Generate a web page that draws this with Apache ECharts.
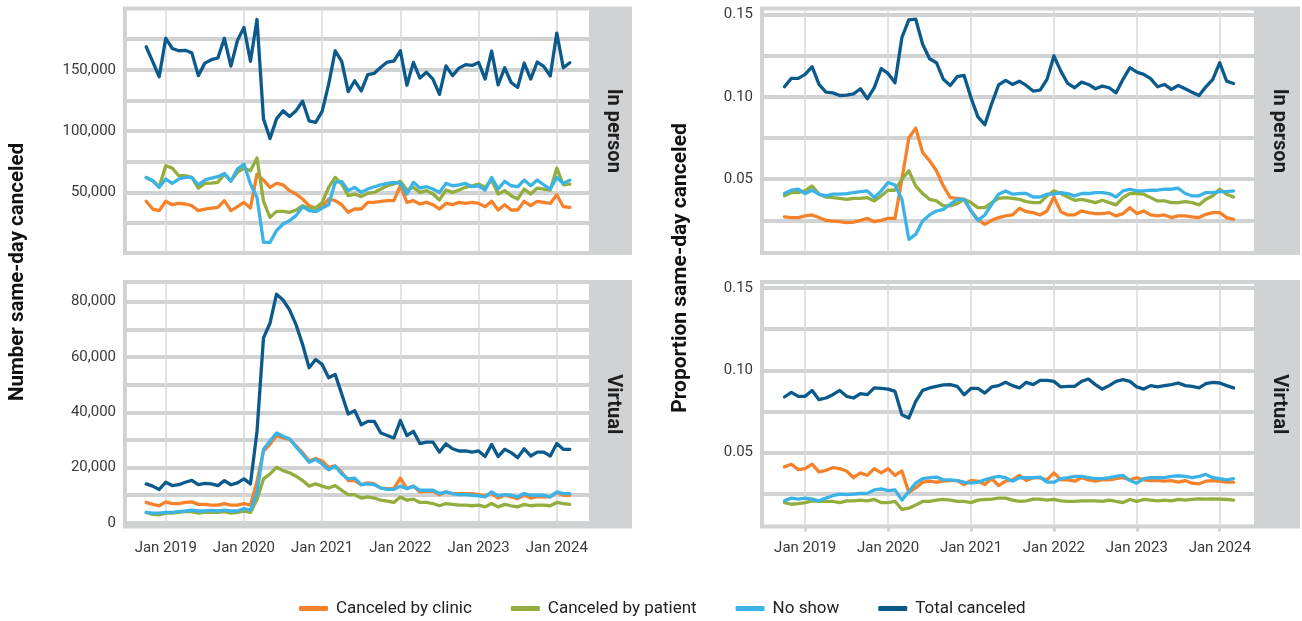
<!DOCTYPE html>
<html>
<head>
<meta charset="utf-8">
<title>Same-day canceled appointments</title>
<script src="https://cdn.jsdelivr.net/npm/echarts@6/dist/echarts.min.js"></script>
<style>
  html, body { margin: 0; padding: 0; background: #fff; }
  #chart { width: 1302px; height: 621px; }
</style>
</head>
<body>
<div id="chart"></div>
<script>
// monthly observations, Oct 2018 - Mar 2024
const months = [
  '2018-10', '2018-11', '2018-12',
  '2019-01', '2019-02', '2019-03', '2019-04', '2019-05', '2019-06', '2019-07', '2019-08', '2019-09', '2019-10', '2019-11', '2019-12',
  '2020-01', '2020-02', '2020-03', '2020-04', '2020-05', '2020-06', '2020-07', '2020-08', '2020-09', '2020-10', '2020-11', '2020-12',
  '2021-01', '2021-02', '2021-03', '2021-04', '2021-05', '2021-06', '2021-07', '2021-08', '2021-09', '2021-10', '2021-11', '2021-12',
  '2022-01', '2022-02', '2022-03', '2022-04', '2022-05', '2022-06', '2022-07', '2022-08', '2022-09', '2022-10', '2022-11', '2022-12',
  '2023-01', '2023-02', '2023-03', '2023-04', '2023-05', '2023-06', '2023-07', '2023-08', '2023-09', '2023-10', '2023-11', '2023-12',
  '2024-01', '2024-02', '2024-03'
];

const yearTicks = [2019, 2020, 2021, 2022, 2023, 2024];
const seriesNames = ['Canceled by clinic', 'Canceled by patient', 'No show', 'Total canceled'];
const stripLabels = ['In person', 'Virtual'];

// number same-day canceled, in person
const inPersonClinic = [
  42700, 36400, 35100, 42700, 39900, 41000, 40500, 39100, 35100, 36400,
  37200, 37800, 43200, 35100, 38300, 41800, 37200, 64900, 60000, 54100,
  57300, 56200, 51400, 48600, 44600, 39100, 37200, 38300, 44600, 43200,
  39900, 33700, 36400, 36400, 41800, 41800, 42700, 43200, 43200, 55400,
  41800, 43200, 40500, 41800, 39900, 36400, 41000, 39900, 41800, 41000,
  41800, 41000, 38300, 42700, 35600, 39900, 35600, 35600, 42700, 39100,
  42700, 41800, 41000, 48100, 38300, 37800
];
const inPersonPatient = [
  62200, 59500, 54600, 71700, 69800, 63600, 63600, 62200, 53500, 57300,
  57600, 58200, 64900, 59500, 66300, 69800, 67700, 78000, 42700, 29600,
  34500, 34500, 33700, 35600, 39100, 37200, 37200, 41800, 54100, 62200,
  56800, 47300, 48600, 46500, 49200, 50000, 52700, 55400, 56800, 59000,
  51900, 54100, 50000, 51400, 48600, 43800, 51900, 50000, 51900, 54100,
  55400, 56800, 54100, 60000, 48600, 51400, 47300, 44600, 52700, 48600,
  53500, 52700, 51900, 69800, 56200, 56800
];
const inPersonNoShow = [
  62200, 59500, 54100, 60900, 57300, 60900, 62200, 62200, 56200, 60000,
  61700, 62800, 65500, 59000, 69000, 73100, 56800, 45900, 9200, 9200,
  18800, 24200, 26900, 31000, 38300, 35100, 34200, 37200, 39900, 58200,
  59000, 51400, 54100, 50000, 52700, 54600, 56200, 57300, 58200, 57300,
  48600, 58200, 53500, 54600, 52700, 50000, 57300, 55400, 56200, 57300,
  54600, 55400, 51900, 62200, 52700, 59000, 55400, 54600, 60000, 55400,
  60000, 56200, 52700, 62200, 57300, 60000
];
const inPersonTotal = [
  168900, 156700, 144400, 175800, 167500, 165600, 166000, 163900, 145300, 155500,
  158300, 159700, 175800, 153000, 173900, 184700, 157000, 191100, 110000, 93900,
  110000, 116700, 111900, 116700, 124400, 108300, 107200, 116100, 138300, 165600,
  157000, 132200, 141100, 132800, 146100, 147200, 152200, 156400, 157200, 165600,
  137500, 156100, 143300, 148000, 142500, 130000, 153300, 145300, 151400, 154200,
  153600, 156100, 142500, 165300, 137800, 151700, 139700, 135600, 155500, 142500,
  156400, 152800, 145000, 180000, 151700, 155800
];

// number same-day canceled, virtual
const virtualClinic = [
  7400, 6700, 6200, 7600, 7000, 7000, 7400, 7600, 6700, 6700,
  6400, 6400, 7000, 6400, 6400, 7000, 6400, 15000, 26000, 28400,
  31600, 30700, 30200, 27800, 25400, 22400, 23300, 22400, 20100, 20600,
  18300, 15300, 15300, 13800, 14500, 14100, 12600, 12400, 12400, 16200,
  12400, 13300, 11200, 11400, 11400, 10200, 11200, 10600, 10600, 10600,
  10600, 10200, 9800, 10600, 9000, 10000, 9400, 8800, 10000, 9000,
  9400, 9400, 9400, 10900, 10000, 10000
];
const virtualPatient = [
  3800, 3100, 2900, 3500, 3500, 3800, 4100, 4100, 3500, 3800,
  3800, 3800, 4100, 3500, 3800, 4300, 3800, 8500, 15900, 17700,
  20100, 18900, 18100, 16900, 15300, 13300, 14100, 13300, 12600, 13500,
  11800, 10200, 10200, 9000, 9400, 9000, 8200, 7900, 7400, 9400,
  8200, 8600, 7400, 7400, 7000, 6200, 7000, 6700, 6400, 6400,
  6200, 6400, 5800, 7000, 5800, 6700, 6200, 5800, 6700, 6200,
  6400, 6400, 6200, 7400, 7000, 6700
];
const virtualNoShow = [
  3800, 3500, 3500, 3800, 3800, 4100, 4300, 4600, 4300, 4300,
  4500, 4300, 4600, 4300, 4300, 5200, 4600, 11000, 26600, 29600,
  32500, 31300, 30400, 27500, 24800, 21900, 23000, 21300, 19200, 20600,
  17700, 15900, 16200, 13800, 14100, 13800, 12600, 12100, 12100, 13300,
  12400, 13300, 11800, 11800, 11800, 10600, 11200, 10600, 10200, 10200,
  10000, 9800, 9400, 11200, 9800, 10200, 10000, 9400, 10600, 10000,
  10000, 10000, 9400, 11200, 10600, 10600
];
const virtualTotal = [
  14100, 13300, 12100, 14700, 13500, 13800, 14700, 15400, 13800, 14300,
  14100, 13500, 15300, 13800, 14500, 15900, 14100, 33000, 66900, 72200,
  82700, 80600, 77000, 71600, 64500, 56100, 59100, 57300, 52500, 53700,
  46600, 39400, 40600, 35500, 36700, 36700, 32500, 31600, 30700, 37000,
  31600, 33100, 28700, 29200, 29200, 25600, 28600, 26800, 26000, 26000,
  25600, 26000, 24000, 28400, 24000, 26600, 25400, 23600, 26800, 24200,
  25600, 25600, 24200, 28700, 26600, 26600
];

// proportion same-day canceled, in person
const inPersonPropClinic = [
  0.0271, 0.0267, 0.0267, 0.0277, 0.0283, 0.0267, 0.0250, 0.0246, 0.0242, 0.0236,
  0.0240, 0.0250, 0.0262, 0.0242, 0.0250, 0.0262, 0.0262, 0.0500, 0.0750, 0.0810,
  0.0662, 0.0612, 0.0551, 0.0459, 0.0388, 0.0384, 0.0378, 0.0307, 0.0256, 0.0226,
  0.0250, 0.0267, 0.0277, 0.0283, 0.0323, 0.0303, 0.0297, 0.0283, 0.0307, 0.0392,
  0.0303, 0.0283, 0.0283, 0.0307, 0.0297, 0.0291, 0.0291, 0.0297, 0.0277, 0.0291,
  0.0327, 0.0291, 0.0307, 0.0283, 0.0277, 0.0283, 0.0267, 0.0277, 0.0277, 0.0271,
  0.0267, 0.0287, 0.0297, 0.0297, 0.0267, 0.0256
];
const inPersonPropPatient = [
  0.0399, 0.0419, 0.0419, 0.0429, 0.0459, 0.0409, 0.0392, 0.0388, 0.0384, 0.0378,
  0.0384, 0.0384, 0.0388, 0.0368, 0.0399, 0.0433, 0.0433, 0.0500, 0.0551, 0.0459,
  0.0413, 0.0378, 0.0368, 0.0338, 0.0338, 0.0352, 0.0378, 0.0358, 0.0327, 0.0327,
  0.0358, 0.0384, 0.0388, 0.0384, 0.0378, 0.0364, 0.0358, 0.0358, 0.0399, 0.0429,
  0.0413, 0.0392, 0.0372, 0.0378, 0.0368, 0.0358, 0.0372, 0.0358, 0.0344, 0.0388,
  0.0413, 0.0413, 0.0409, 0.0388, 0.0368, 0.0368, 0.0358, 0.0358, 0.0364, 0.0358,
  0.0344, 0.0378, 0.0399, 0.0439, 0.0409, 0.0392
];
const inPersonPropNoShow = [
  0.0413, 0.0433, 0.0439, 0.0413, 0.0433, 0.0409, 0.0399, 0.0409, 0.0409, 0.0413,
  0.0419, 0.0425, 0.0429, 0.0388, 0.0429, 0.0480, 0.0465, 0.0378, 0.0135, 0.0165,
  0.0246, 0.0283, 0.0307, 0.0317, 0.0348, 0.0378, 0.0378, 0.0307, 0.0250, 0.0283,
  0.0348, 0.0409, 0.0429, 0.0409, 0.0413, 0.0413, 0.0392, 0.0392, 0.0409, 0.0409,
  0.0419, 0.0413, 0.0399, 0.0413, 0.0413, 0.0419, 0.0419, 0.0413, 0.0392, 0.0429,
  0.0439, 0.0429, 0.0429, 0.0433, 0.0433, 0.0439, 0.0439, 0.0445, 0.0413, 0.0399,
  0.0399, 0.0419, 0.0419, 0.0425, 0.0425, 0.0429
];
const inPersonPropTotal = [
  0.1061, 0.1112, 0.1112, 0.1136, 0.1183, 0.1075, 0.1028, 0.1024, 0.1008, 0.1010,
  0.1018, 0.1049, 0.0988, 0.1055, 0.1171, 0.1142, 0.1085, 0.1360, 0.1467, 0.1471,
  0.1319, 0.1231, 0.1207, 0.1106, 0.1069, 0.1122, 0.1130, 0.0994, 0.0878, 0.0831,
  0.0959, 0.1073, 0.1100, 0.1075, 0.1095, 0.1069, 0.1035, 0.1041, 0.1106, 0.1248,
  0.1156, 0.1081, 0.1055, 0.1089, 0.1075, 0.1049, 0.1065, 0.1055, 0.1024, 0.1106,
  0.1177, 0.1150, 0.1136, 0.1110, 0.1061, 0.1075, 0.1045, 0.1069, 0.1049, 0.1028,
  0.1008, 0.1061, 0.1106, 0.1207, 0.1095, 0.1081
];

// proportion same-day canceled, virtual
const virtualPropClinic = [
  0.0414, 0.0430, 0.0397, 0.0403, 0.0430, 0.0383, 0.0393, 0.0409, 0.0403, 0.0389,
  0.0348, 0.0377, 0.0362, 0.0403, 0.0377, 0.0403, 0.0362, 0.0389, 0.0259, 0.0286,
  0.0321, 0.0327, 0.0321, 0.0327, 0.0331, 0.0331, 0.0307, 0.0331, 0.0327, 0.0307,
  0.0342, 0.0300, 0.0327, 0.0335, 0.0362, 0.0331, 0.0348, 0.0348, 0.0335, 0.0377,
  0.0335, 0.0335, 0.0327, 0.0348, 0.0335, 0.0327, 0.0335, 0.0335, 0.0342, 0.0348,
  0.0335, 0.0348, 0.0335, 0.0331, 0.0331, 0.0327, 0.0331, 0.0321, 0.0331, 0.0315,
  0.0311, 0.0327, 0.0331, 0.0327, 0.0321, 0.0321
];
const virtualPropPatient = [
  0.0197, 0.0187, 0.0191, 0.0197, 0.0208, 0.0204, 0.0204, 0.0204, 0.0197, 0.0208,
  0.0208, 0.0212, 0.0208, 0.0216, 0.0197, 0.0197, 0.0204, 0.0156, 0.0163, 0.0183,
  0.0204, 0.0204, 0.0212, 0.0216, 0.0212, 0.0204, 0.0204, 0.0197, 0.0212, 0.0216,
  0.0218, 0.0224, 0.0224, 0.0212, 0.0204, 0.0208, 0.0218, 0.0218, 0.0212, 0.0216,
  0.0208, 0.0204, 0.0204, 0.0208, 0.0208, 0.0208, 0.0204, 0.0212, 0.0204, 0.0197,
  0.0216, 0.0204, 0.0216, 0.0212, 0.0208, 0.0212, 0.0208, 0.0216, 0.0212, 0.0216,
  0.0220, 0.0218, 0.0220, 0.0218, 0.0216, 0.0212
];
const virtualPropNoShow = [
  0.0208, 0.0224, 0.0218, 0.0224, 0.0218, 0.0208, 0.0224, 0.0239, 0.0249, 0.0245,
  0.0249, 0.0253, 0.0253, 0.0274, 0.0280, 0.0270, 0.0274, 0.0212, 0.0265, 0.0315,
  0.0342, 0.0348, 0.0352, 0.0335, 0.0335, 0.0331, 0.0321, 0.0315, 0.0321, 0.0335,
  0.0348, 0.0356, 0.0348, 0.0327, 0.0348, 0.0348, 0.0348, 0.0352, 0.0321, 0.0321,
  0.0342, 0.0348, 0.0356, 0.0356, 0.0348, 0.0342, 0.0342, 0.0348, 0.0356, 0.0362,
  0.0331, 0.0315, 0.0342, 0.0348, 0.0348, 0.0348, 0.0356, 0.0360, 0.0356, 0.0348,
  0.0356, 0.0368, 0.0348, 0.0342, 0.0335, 0.0342
];
const virtualPropTotal = [
  0.0838, 0.0866, 0.0842, 0.0842, 0.0878, 0.0822, 0.0832, 0.0852, 0.0878, 0.0842,
  0.0832, 0.0858, 0.0852, 0.0893, 0.0890, 0.0886, 0.0872, 0.0730, 0.0710, 0.0811,
  0.0878, 0.0893, 0.0903, 0.0911, 0.0913, 0.0903, 0.0852, 0.0890, 0.0890, 0.0862,
  0.0899, 0.0907, 0.0927, 0.0907, 0.0893, 0.0927, 0.0913, 0.0939, 0.0939, 0.0933,
  0.0899, 0.0903, 0.0903, 0.0933, 0.0947, 0.0913, 0.0886, 0.0907, 0.0933, 0.0943,
  0.0933, 0.0899, 0.0886, 0.0907, 0.0899, 0.0907, 0.0913, 0.0923, 0.0907, 0.0903,
  0.0893, 0.0919, 0.0927, 0.0923, 0.0907, 0.0893
];

// y-axis ticks: gridlines every half-step, labels every step
const countInPersonLines = [25000, 50000, 75000, 100000, 125000, 150000, 175000];
const countInPersonLabels = [50000, 100000, 150000];
const countVirtualLines = [0, 10000, 20000, 30000, 40000, 50000, 60000, 70000, 80000];
const countVirtualLabels = [0, 20000, 40000, 60000, 80000];
const propLines = [0.025, 0.05, 0.075, 0.1, 0.125, 0.15];
const propLabels = [0.05, 0.10, 0.15];

const COLORS = ['#f5822b', '#93ae3e', '#3cb3e7', '#0c5a8c'];
const GRAY = '#d1d2d4';
const FONT = 'Roboto, "Noto Sans", sans-serif';

// "2019-03" -> 2019.1667 so Jan of each year lands on an integer
const xs = months.map(m => {
  const [y, mo] = m.split('-').map(Number);
  return y + (mo - 1) / 12;
});
const span = xs[xs.length - 1] - xs[0];
const xMin = xs[0] - 0.05 * span;
const xMax = xs[xs.length - 1] + 0.05 * span;

const panels = [
  { grid: { left: 125, top: 8.5, width: 466, height: 244.5 }, min: 500, max: 200100,
    lines: countInPersonLines, labels: countInPersonLabels, fmt: v => v.toLocaleString('en-US'),
    data: [inPersonClinic, inPersonPatient, inPersonNoShow, inPersonTotal], bottom: false },
  { grid: { left: 125, top: 282, width: 466, height: 244.5 }, min: -1300, max: 87100,
    lines: countVirtualLines, labels: countVirtualLabels, fmt: v => v.toLocaleString('en-US'),
    data: [virtualClinic, virtualPatient, virtualNoShow, virtualTotal], bottom: true },
  { grid: { left: 762, top: 8.5, width: 494, height: 244.5 }, min: 0.0052, max: 0.1536,
    lines: propLines, labels: propLabels, fmt: v => v.toFixed(2),
    data: [inPersonPropClinic, inPersonPropPatient, inPersonPropNoShow, inPersonPropTotal], bottom: false },
  { grid: { left: 762, top: 282, width: 494, height: 244.5 }, min: 0.0052, max: 0.1536,
    lines: propLines, labels: propLabels, fmt: v => v.toFixed(2),
    data: [virtualPropClinic, virtualPropPatient, virtualPropNoShow, virtualPropTotal], bottom: true }
];

const grid = panels.map(p => Object.assign({
  show: true, borderColor: GRAY, borderWidth: 4, backgroundColor: '#fff', containLabel: false
}, p.grid));

const xAxis = panels.map((p, i) => ({
  type: 'value', gridIndex: i, min: xMin, max: xMax,
  axisLine: { show: false },
  axisTick: {
    show: p.bottom, customValues: yearTicks, length: 5,
    lineStyle: { color: GRAY, width: 3 }
  },
  axisLabel: {
    show: p.bottom, customValues: yearTicks, margin: 14,
    formatter: v => 'Jan ' + Math.round(v),
    color: '#3a3a3a', fontSize: 15, fontFamily: FONT
  },
  splitLine: { show: true, customValues: yearTicks, lineStyle: { color: '#d9d9da', width: 1.5 } }
}));

const yAxis = panels.map((p, i) => ({
  type: 'value', gridIndex: i, min: p.min, max: p.max,
  axisLine: { show: false },
  axisTick: { show: false, customValues: p.lines },
  axisLabel: {
    customValues: p.labels, margin: 9, formatter: p.fmt,
    color: '#3a3a3a', fontSize: 15, fontFamily: FONT
  },
  splitLine: { show: true, customValues: p.lines, lineStyle: { color: GRAY, width: 4 } }
}));

const series = [];
panels.forEach((p, i) => {
  p.data.forEach((vals, k) => {
    series.push({
      name: seriesNames[k], type: 'line', xAxisIndex: i, yAxisIndex: i,
      data: vals.map((v, j) => [xs[j], v]),
      symbol: 'none', color: COLORS[k],
      lineStyle: { width: 3.3, color: COLORS[k], cap: 'round', join: 'round' },
      z: 3 + k
    });
  });
});

// facet strips on the right of each panel
const graphic = [];
panels.forEach((p, i) => {
  const g = p.grid;
  const x0 = g.left + g.width + 2;
  const w = i < 2 ? 632 - x0 : 1300 - x0;
  graphic.push({
    type: 'rect', z: 10,
    shape: { x: x0, y: g.top - 2, width: w, height: g.height + 4 },
    style: { fill: GRAY }
  });
  graphic.push({
    type: 'text', z: 11,
    x: x0 + w / 2, y: g.top + g.height / 2, rotation: -Math.PI / 2,
    style: {
      text: stripLabels[i % 2], align: 'center', verticalAlign: 'middle',
      font: 'bold 20px ' + FONT, fill: '#1e1e1e'
    }
  });
});
graphic.push({
  type: 'text', x: 18, y: 272, rotation: Math.PI / 2,
  style: { text: 'Number same-day canceled', align: 'center', verticalAlign: 'middle', font: 'bold 20.5px ' + FONT, fill: '#111' }
});
graphic.push({
  type: 'text', x: 681, y: 268, rotation: Math.PI / 2,
  style: { text: 'Proportion same-day canceled', align: 'center', verticalAlign: 'middle', font: 'bold 21px ' + FONT, fill: '#111' }
});

const chart = echarts.init(document.getElementById('chart'), null, { renderer: 'canvas' });
chart.setOption({
  animation: false,
  backgroundColor: '#fff',
  grid, xAxis, yAxis, series, graphic,
  legend: {
    data: seriesNames, left: 294, top: 595,
    icon: 'roundRect', itemWidth: 29, itemHeight: 5, itemGap: 39,
    textStyle: { fontSize: 17, color: '#222', fontFamily: FONT, padding: [0, 0, 0, 3] }
  }
});
</script>
</body>
</html>
